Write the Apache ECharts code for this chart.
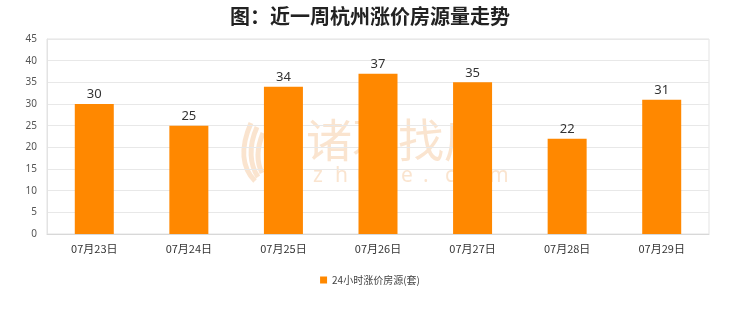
<!DOCTYPE html>
<html>
<head>
<meta charset="utf-8">
<style>
  html, body { margin: 0; padding: 0; background: #fff; }
  #chart { width: 740px; height: 312px; }
</style>
<script src="https://cdn.jsdelivr.net/npm/echarts@6/dist/echarts.min.js"></script>
</head>
<body>
<div id="chart"></div>
<script>
// 杭州近一周每日涨价房源数量
const categories = ['07月23日', '07月24日', '07月25日', '07月26日', '07月27日', '07月28日', '07月29日'];
const risingListings = [30, 25, 34, 37, 35, 22, 31];
const seriesName = '24小时涨价房源(套)';
const yTicks = { min: 0, max: 45, interval: 5 };

const chart = echarts.init(document.getElementById('chart'), null, { renderer: 'canvas' });

const wmColor = 'rgba(246, 206, 168, 0.55)';
const siteChars = 'zhuge.com'.split('');

// feather-shaped logo made of curved strokes
const featherStrokes = [
  [251, 123, 240, 148, 242, 168, 255, 181],
  [257, 127, 248, 147, 250, 165, 258, 177],
  [263, 133, 256, 150, 257, 163, 262, 173]
].map(p => ({
  type: 'bezierCurve', z: -1, silent: true,
  shape: { x1: p[0], y1: p[1], cpx1: p[2], cpy1: p[3], cpx2: p[4], cpy2: p[5], x2: p[6], y2: p[7] },
  style: { stroke: wmColor, lineWidth: 5, fill: null }
}));

const watermark = [
  {
    type: 'text', x: 306, y: 117, z: -1, silent: true,
    style: { text: '诸葛找房', font: '46px "Noto Sans CJK SC"', fill: wmColor }
  }
].concat(siteChars.map((ch, i) => ({
  type: 'text', x: 313 + i * 22, y: 166, z: -1, silent: true,
  style: { text: ch, font: '21px "Noto Sans"', fill: wmColor }
}))).concat(featherStrokes);

chart.setOption({
  animation: false,
  title: {
    text: '图：近一周杭州涨价房源量走势',
    left: 'center', top: 1,
    textStyle: { fontFamily: '"Noto Sans CJK SC"', fontSize: 20, fontWeight: 'bold', color: '#222' }
  },
  grid: { left: 47, right: 31, top: 39, bottom: 78, show: true, borderColor: '#e3e3e3', borderWidth: 1 },
  legend: {
    bottom: 22, left: 'center',
    itemWidth: 7, itemHeight: 7, icon: 'rect',
    textStyle: { fontFamily: '"Noto Sans CJK SC"', fontSize: 10, color: '#444' },
    data: [seriesName]
  },
  xAxis: {
    type: 'category',
    data: categories,
    axisLine: { lineStyle: { color: '#d8d8d8' } },
    axisTick: { show: false },
    axisLabel: { fontFamily: '"Noto Sans CJK SC"', fontSize: 11, color: '#333', margin: 9 }
  },
  yAxis: {
    type: 'value',
    min: yTicks.min, max: yTicks.max, interval: yTicks.interval,
    axisLine: { show: true, lineStyle: { color: '#e3e3e3' } },
    axisTick: { show: false },
    axisLabel: { fontFamily: '"Noto Sans"', fontSize: 10, color: '#555', margin: 10 },
    splitLine: { lineStyle: { color: '#e8e8e8' } }
  },
  graphic: watermark,
  series: [{
    name: seriesName,
    type: 'bar',
    data: risingListings,
    barWidth: 39,
    itemStyle: { color: '#ff8800' },
    label: {
      show: true, position: 'top', distance: 3,
      fontFamily: '"Noto Sans"', fontSize: 13, color: '#333'
    }
  }]
});
</script>
</body>
</html>
